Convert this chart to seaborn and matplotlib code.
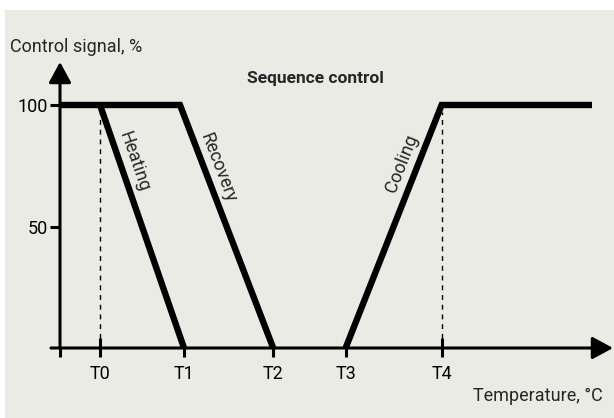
import matplotlib.pyplot as plt
import matplotlib.patches as mpatches
import numpy as np
import pandas as pd
import seaborn as sns

# temperature positions (arbitrary units) and control signal levels
tick_names = ["T0", "T1", "T2", "T3", "T4"]
tick_pos = [1.0, 3.1, 5.33, 7.14, 9.54]

heating_x = [1.0, 3.1]
heating_y = [100, 0]
recovery_x = [0.0, 3.0, 5.33]
recovery_y = [100, 100, 0]
cooling_x = [7.14, 9.54, 13.3]
cooling_y = [0, 100, 100]

ytick_pos = [50, 100]
ytick_labels = ["50", "100"]

sns.set_style("white")
plt.rcParams['font.family'] = ['Roboto', 'DejaVu Sans']

bg = "#ebebe6"
W, H = 614, 418
fig = plt.figure(figsize=(W / 100, H / 100), dpi=100, facecolor="white")
fig.patches.append(mpatches.Rectangle((5 / W, 0), 1, 1 - 10 / H, transform=fig.transFigure,
                                      facecolor=bg, edgecolor="none", zorder=-10))

ax = fig.add_axes([60 / W, 70 / H, (613 - 60) / W, (348 - 62) / H])
ax.set_facecolor("none")
ax.set_xlim(0, 553 / 40)
ax.set_ylim(0, 286 / 2.43)

lines = pd.concat([
    pd.DataFrame({"t": heating_x, "s": heating_y, "mode": "Heating"}),
    pd.DataFrame({"t": recovery_x, "s": recovery_y, "mode": "Recovery"}),
    pd.DataFrame({"t": cooling_x, "s": cooling_y, "mode": "Cooling"}),
])
for m, d in lines.groupby("mode"):
    sns.lineplot(data=d, x="t", y="s", sort=False, color="black", lw=4.6, ax=ax,
                 solid_joinstyle="miter", solid_capstyle="butt", clip_on=False)

# dashed helper lines at T0 and T4
ax.vlines([tick_pos[0], tick_pos[4]], 0, 97, colors="black", lw=1, linestyles=(0, (3.5, 3.5)))
ax.vlines([tick_pos[0], tick_pos[4]], 0, 4, colors="black", lw=2.2)

# axes with arrows
for s in ax.spines.values():
    s.set_visible(False)
ax.annotate("", xy=(1, 0), xytext=(-9 / 553, 0), xycoords="axes fraction",
            arrowprops=dict(arrowstyle="-|>,head_length=0.7,head_width=0.38", lw=2.2,
                            color="black", shrinkA=0, shrinkB=0, mutation_scale=18))
ax.annotate("", xy=(0, 1), xytext=(0, 0), xycoords="axes fraction",
            arrowprops=dict(arrowstyle="-|>,head_length=0.7,head_width=0.38", lw=2.2,
                            color="black", shrinkA=0, shrinkB=0, mutation_scale=18))

ax.set_xticks([0] + tick_pos)
ax.set_xticklabels([""] + tick_names)
ax.set_yticks(ytick_pos)
ax.set_yticklabels(ytick_labels)
ax.tick_params(axis="x", direction="out", length=6.5, width=2.2, pad=6, labelsize=13,
               colors="black", bottom=True)
ax.tick_params(axis="y", direction="out", length=7.5, width=2.2, pad=1.5, labelsize=13,
               colors="black", left=True)
ax.set_xlabel("")
ax.set_ylabel("")

ax.text(1.85, 76.5, "Heating", rotation=-71, ha="center", va="center",
        rotation_mode="anchor", fontsize=13)
ax.text(3.95, 74, "Recovery", rotation=-69, ha="center", va="center",
        rotation_mode="anchor", fontsize=13)
ax.text(8.55, 76, "Cooling", rotation=68.5, ha="center", va="center",
        rotation_mode="anchor", fontsize=13)

fig.text(315 / W, 1 - 78 / H, "Sequence control", ha="center", va="center",
         fontsize=12.5, fontweight="bold")
fig.text(10 / W, 1 - 47 / H, "Control signal, %", ha="left", va="center", fontsize=13)
fig.text(603 / W, 1 - 396 / H, "Temperature, °C", ha="right", va="center", fontsize=13)

fig.savefig("out.png", dpi=100, facecolor="white")
